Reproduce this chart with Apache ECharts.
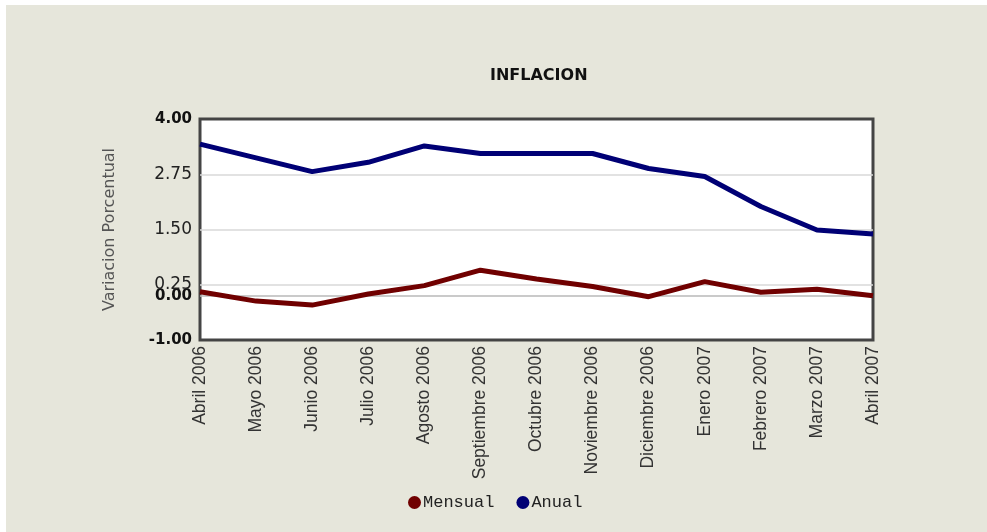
<!DOCTYPE html>
<html>
<head>
<meta charset="utf-8">
<script src="https://cdn.jsdelivr.net/npm/echarts@6/dist/echarts.min.js"></script>
<style>
html,body{margin:0;padding:0;background:#ffffff;width:987px;height:532px;overflow:hidden;}
#chart{position:absolute;left:6px;top:5px;width:981px;height:527px;background:#e6e6db;}
</style>
</head>
<body>
<div id="chart"></div>
<script>
const categories = ['Abril 2006','Mayo 2006','Junio 2006','Julio 2006','Agosto 2006','Septiembre 2006','Octubre 2006','Noviembre 2006','Diciembre 2006','Enero 2007','Febrero 2007','Marzo 2007','Abril 2007'];
const mensual = [0.09,-0.12,-0.21,0.04,0.23,0.58,0.38,0.21,-0.02,0.32,0.08,0.15,0.00];
const anual = [3.43,3.12,2.81,3.02,3.39,3.22,3.22,3.22,2.88,2.70,2.02,1.49,1.40];
const yTickLabels = ['-1.00','0.00','0.25','1.50','2.75','4.00'];
const yBoldLabels = ['-1.00','0.00','4.00'];
const gridValues = [0.25,1.50,2.75];
const zeroValue = 0;
const yMin = -1, yMax = 4, yStep = 0.25;

const lineColors = [];
for (let v = yMin; v <= yMax + 1e-9; v += yStep) {
  const r = Math.round(v * 100) / 100;
  if (r === zeroValue) lineColors.push('#b8b8b8');
  else if (gridValues.indexOf(r) >= 0) lineColors.push('#d8d8d8');
  else lineColors.push('rgba(0,0,0,0)');
}

const chart = echarts.init(document.getElementById('chart'));
chart.setOption({
  backgroundColor: '#e6e6db',
  animation: false,
  title: {
    text: 'INFLACION',
    left: 479,
    top: 58,
    textStyle: {fontFamily: 'DejaVu Sans', fontSize: 16, fontWeight: 'bold', color: '#111'}
  },
  legend: {
    data: ['Mensual','Anual'],
    left: 397,
    top: 484,
    icon: 'circle',
    itemWidth: 13,
    itemHeight: 13,
    itemGap: 22,
    textStyle: {fontFamily: 'Liberation Mono', fontSize: 17, color: '#222', padding: [0,0,0,-3]}
  },
  grid: {
    left: 194, top: 114, right: 114, bottom: 192,
    show: true, backgroundColor: '#ffffff', borderColor: '#444444', borderWidth: 3
  },
  xAxis: {
    type: 'category',
    data: categories,
    boundaryGap: false,
    axisLine: {show: false},
    axisTick: {show: false},
    splitLine: {show: false},
    axisLabel: {rotate: 90, margin: 6, fontFamily: 'Liberation Sans', fontSize: 17.5, color: '#333'}
  },
  yAxis: {
    type: 'value',
    min: yMin, max: yMax, interval: yStep,
    name: 'Variacion Porcentual',
    nameLocation: 'middle',
    nameGap: 82,
    nameTextStyle: {fontFamily: 'DejaVu Sans', fontSize: 16, color: '#555'},
    axisLine: {show: false},
    axisTick: {show: false},
    splitLine: {show: true, lineStyle: {color: lineColors, width: 1.5}},
    axisLabel: {
      margin: 8,
      formatter: function (v) {
        const s = (Math.round(v * 100) / 100).toFixed(2);
        if (yTickLabels.indexOf(s) < 0) return '';
        return yBoldLabels.indexOf(s) >= 0 ? '{b|' + s + '}' : '{n|' + s + '}';
      },
      rich: {
        b: {fontFamily: 'DejaVu Sans', fontSize: 15, fontWeight: 'bold', color: '#111'},
        n: {fontFamily: 'DejaVu Sans', fontSize: 17, color: '#222'}
      }
    }
  },
  series: [
    {name: 'Mensual', type: 'line', data: mensual, symbol: 'none', lineStyle: {width: 5, color: '#700000'}, itemStyle: {color: '#700000'}},
    {name: 'Anual', type: 'line', data: anual, symbol: 'none', lineStyle: {width: 5, color: '#000075'}, itemStyle: {color: '#000075'}}
  ]
});
</script>
</body>
</html>
